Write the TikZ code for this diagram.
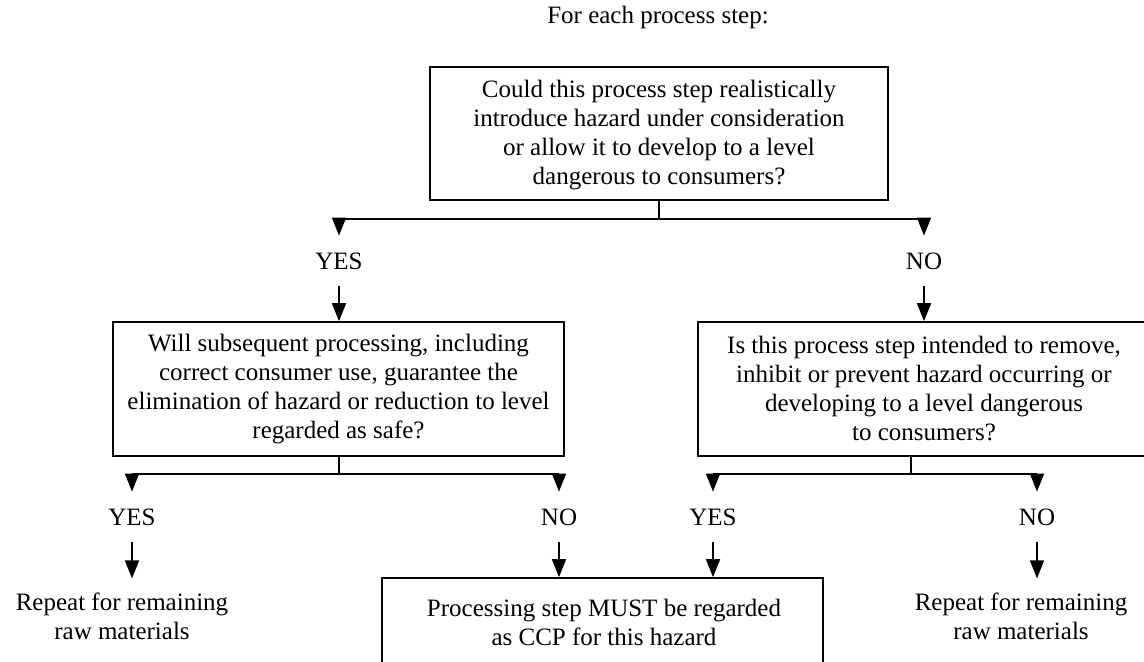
\documentclass[tikz,border=0pt]{standalone}
\usepackage{fontspec}
\setmainfont{Liberation Serif}
\usetikzlibrary{arrows.meta}
\begin{document}
\begin{tikzpicture}[x=0.5pt,y=-0.5pt,
  every node/.style={font=\fontsize{12.5pt}{14.5pt}\selectfont},
  box/.style={draw, line width=0.8pt, align=center, inner sep=0pt},
  lbl/.style={inner sep=0pt, minimum height=25pt},
  txt/.style={align=center, inner sep=0pt},
  conn/.style={line width=0.8pt},
  arr/.style={line width=0.8pt, -{Triangle[length=9pt,width=7pt]}}]
\useasboundingbox (0,0) rectangle (1144,662);
\clip (0,0) rectangle (1144,662);

\node[txt] (title) at (658,17) {For each process step:};

\node[box, minimum width=229pt, minimum height=66.5pt] (q1) at (659,133.5) {};
\node[txt] (q1txt) at (659,135.5)
  {Could this process step realistically\\ introduce hazard under consideration\\ or allow it to develop to a level\\ dangerous to consumers?};

\node[lbl] (yes1) at (339,261) {YES};
\node[lbl] (no1) at (924,261) {NO};

\node[box, minimum width=225.5pt, minimum height=67pt] (q2L) at (338.5,389)
  {Will subsequent processing, including\\ correct consumer use, guarantee the\\ elimination of hazard or reduction to level\\ regarded as safe?};

\node[box, minimum width=226pt, minimum height=67pt] (q2R) at (924,389)
  {Is this process step intended to remove,\\ inhibit or prevent hazard occurring or\\ developing to a level dangerous\\ to consumers?};

\node[lbl] (yes2) at (132,517) {YES};
\node[lbl] (no2) at (559,517) {NO};
\node[lbl] (yes3) at (713,517) {YES};
\node[lbl] (no3) at (1037,517) {NO};

\node[txt] (rep1) at (122,616) {Repeat for remaining\\ raw materials};
\node[txt] (rep2) at (1021,616) {Repeat for remaining\\ raw materials};

\node[draw, line width=0.8pt, inner sep=0pt, minimum width=220.5pt, minimum height=62pt] (ccp) at (602.5,640) {};
\node[txt] (ccptxt) at (604,622.5) {Processing step MUST be regarded\\ as CCP for this hazard};

\coordinate (j1) at (659,219);
\coordinate (j2) at (339,474);
\coordinate (j3) at (911,474);

\draw[conn] (q1.south) -- (j1);
\draw[arr] (j1) -| (yes1.north);
\draw[arr] (j1) -| (no1.north);
\draw[arr] (yes1.south) -- (q2L.north -| yes1.south);
\draw[arr] (no1.south) -- (q2R.north -| no1.south);

\draw[conn] (q2L.south -| j2) -- (j2);
\draw[arr] (j2) -| (yes2.north);
\draw[arr] (j2) -| (no2.north);
\draw[conn] (q2R.south -| j3) -- (j3);
\draw[arr] (j3) -| (yes3.north);
\draw[arr] (j3) -| (no3.north);

\draw[arr] (yes2.south) -- ++(0,36);
\draw[arr] (no2.south) -- (ccp.north -| no2.south);
\draw[arr] (yes3.south) -- (ccp.north -| yes3.south);
\draw[arr] (no3.south) -- ++(0,36);
\end{tikzpicture}
\end{document}
